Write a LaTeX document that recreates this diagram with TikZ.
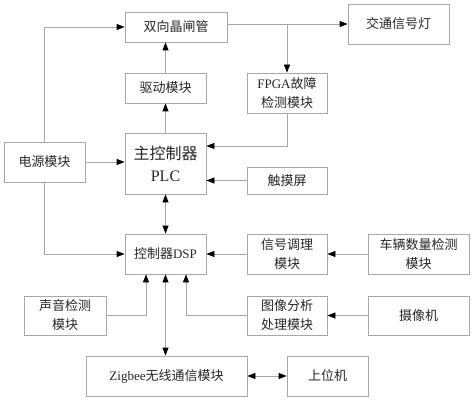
\documentclass[tikz,border=0pt]{standalone}
\usepackage{fontspec}
\setmainfont{Liberation Serif}
\newfontfamily\cjk{Noto Sans CJK SC}
\usepackage{tikz}
\usetikzlibrary{arrows.meta}
\usetikzlibrary{positioning}
\definecolor{linegray}{HTML}{A8A8A8}
\definecolor{textgray}{HTML}{262626}
\tikzset{
    block/.style={
           rectangle,
           draw=linegray, line width=0.8pt,
           inner sep=0pt,
           text=textgray,
           align=center,
           font=\cjk\fontsize{13}{19}\selectfont,
           },
    wire/.style={draw=linegray, line width=0.8pt},
}

\begin{document}
\begin{tikzpicture}[->,>={Triangle[length=8pt,width=6pt,color=black]},x=1pt,y=1pt]
 \useasboundingbox (0,0) rectangle (474,-401);
 % main controller in the middle, the rest placed around it
 \node[block,
 minimum width=81pt, minimum height=61pt,
 font=\cjk\fontsize{16}{22}\selectfont] (plc) at (165.5,-163.5)
 {主控制器\\{\rmfamily PLC}};
 \node[block,
 node distance=75.5pt, above of=plc,
 minimum width=81pt, minimum height=30pt] (drive)
 {驱动模块};
 \node[block,
 node distance=61pt, above of=drive, xshift=10.5pt,
 minimum width=102pt, minimum height=30pt] (thyristor)
 {双向晶闸管};
 \node[block,
 node distance=222.5pt, right of=thyristor, yshift=3pt,
 minimum width=101pt, minimum height=40pt] (light)
 {交通信号灯};
 \node[block,
 node distance=121.5pt, right of=drive, yshift=-5pt,
 minimum width=80pt, minimum height=40pt] (fpga)
 {{\rmfamily FPGA}故障\\检测模块};
 \node[block,
 node distance=121pt, left of=plc, yshift=1.5pt,
 minimum width=81pt, minimum height=40pt] (power)
 {电源模块};
 \node[block,
 node distance=121.5pt, right of=plc, yshift=-17pt,
 minimum width=80pt, minimum height=27pt] (touch)
 {触摸屏};
 \node[block,
 node distance=90.5pt, below of=plc,
 minimum width=81pt, minimum height=40pt] (dsp)
 {控制器{\rmfamily DSP}};
 \node[block,
 node distance=121.5pt, right of=dsp,
 minimum width=80pt, minimum height=40pt] (cond)
 {信号调理\\模块};
 \node[block,
 node distance=131.5pt, right of=cond,
 minimum width=101pt, minimum height=40pt] (vehicle)
 {车辆数量检测\\模块};
 \node[block,
 node distance=61.5pt, below of=cond,
 minimum width=80pt, minimum height=39pt] (image)
 {图像分析\\处理模块};
 \node[block,
 node distance=131.5pt, right of=image,
 minimum width=101pt, minimum height=39pt] (camera)
 {摄像机};
 \node[block,
 node distance=61.5pt, below of=dsp, xshift=-100.5pt,
 minimum width=82pt, minimum height=39pt] (sound)
 {声音检测\\模块};
 \node[block,
 node distance=122pt, below of=dsp, xshift=1pt,
 minimum width=161pt, minimum height=40pt] (zigbee)
 {{\rmfamily Zigbee}无线通信模块};
 \node[block,
 node distance=161pt, right of=zigbee,
 minimum width=81pt, minimum height=40pt] (host)
 {上位机};
 % connectors
 \draw[wire] (plc.north) -- (drive.south);
 \draw[wire] (drive.north) -- (drive.north |- thyristor.south);
 \draw[wire] (thyristor.east |- light.west) -- (light.west);
 \draw[wire] (fpga.north |- light.west) -- (fpga.north);
 \draw[wire] (fpga.south) |- ([yshift=17.5pt]plc.east);
 \draw[wire] (touch.west) -- (touch.west -| plc.east);
 \draw[wire] (power.east) -- (power.east -| plc.west);
 \draw[wire] (power.north) |- (thyristor.west);
 \draw[wire] (power.south) |- (dsp.west);
 \draw[wire,<->] (plc.south) -- (dsp.north);
 \draw[wire] (cond.west) -- (cond.west -| dsp.east);
 \draw[wire] (vehicle.west) -- (vehicle.west -| cond.east);
 \draw[wire] (sound.east) -| ([xshift=-19.5pt]dsp.south);
 \draw[wire] (image.west) -| ([xshift=20.5pt]dsp.south);
 \draw[wire] (camera.west) -- (image.east);
 \draw[wire,<->] (dsp.south) -- (dsp.south |- zigbee.north);
 \draw[wire,<->] (zigbee.east) -- (host.west);
\end{tikzpicture}
\end{document}
